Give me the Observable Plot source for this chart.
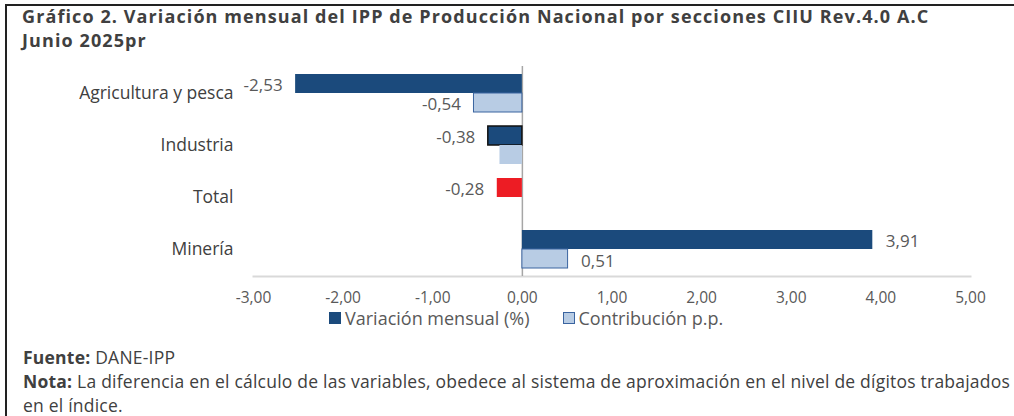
<!DOCTYPE html>
<html>
<head>
<meta charset="utf-8">
<script src="https://cdn.jsdelivr.net/npm/d3@7"></script>
<script src="https://cdn.jsdelivr.net/npm/@observablehq/plot@0.6"></script>
<style>
  html, body { margin: 0; padding: 0; background: #fff; }
  #page { position: relative; width: 1014px; height: 416px; overflow: hidden; font-family: "Open Sans", sans-serif; }
  #frame { position: absolute; left: 5px; top: 4px; width: 1020px; height: 420px; border-top: 2px solid #222; border-left: 2px solid #222; }
  #title { position: absolute; left: 22px; top: 4px; font-weight: 700; font-size: 18px; letter-spacing: 1.1px; line-height: 24px; color: #404040; white-space: nowrap; }
  #chart { position: absolute; left: 0; top: 0; }
  #legend { position: absolute; left: 329px; top: 306px; display: flex; align-items: center; font-size: 18px; line-height: 24px; color: #595959; white-space: nowrap; }
  #legend .item { display: flex; align-items: center; margin-right: 33px; }
  #legend .sw { width: 12px; height: 12px; margin-right: 4px; box-sizing: border-box; }
  #footer { position: absolute; left: 23px; top: 345px; font-size: 17.5px; letter-spacing: 0.22px; line-height: 24px; color: #404040; white-space: nowrap; }
  #footer b { font-weight: 700; }
</style>
</head>
<body>
<div id="page">
  <div id="frame"></div>
  <div id="title">Gráfico 2. Variación mensual del IPP de Producción Nacional por secciones CIIU Rev.4.0 A.C<br>Junio 2025pr</div>
  <div id="chart"></div>
  <div id="legend"></div>
  <div id="footer"><b>Fuente:</b> DANE-IPP<br><b>Nota:</b> La diferencia en el cálculo de las variables, obedece al sistema de aproximación en el nivel de dígitos trabajados<br>en el índice.</div>
</div>
<script>
const categories = ["Agricultura y pesca", "Industria", "Total", "Minería"];
const variacion = [-2.53, -0.38, -0.28, 3.91];
const contribucion = [-0.54, -0.25, null, 0.51];
const contribucionLabelShown = [true, false, false, true];
const xTicks = [-3, -2, -1, 0, 1, 2, 3, 4, 5];
const seriesNames = ["Variación mensual (%)", "Contribución p.p."];

const fmt = v => v.toFixed(2).replace(".", ",");

const varRows = categories.map((c, i) => ({category: c, value: variacion[i]}));
const conRows = categories.map((c, i) => ({category: c, value: contribucion[i], showLabel: contribucionLabelShown[i]}))
  .filter(d => d.value != null);

const DARK = "#1b4a7c";
const LIGHT = "#b8cce4";
const LIGHT_STROKE = "#3a64a0";
const RED = "#ed1c24";
const LABEL = "#595959";

const chart = Plot.plot({
  width: 1014,
  height: 310,
  marginTop: 66,
  marginBottom: 34,
  marginLeft: 253,
  marginRight: 44,
  style: {fontFamily: "Open Sans, sans-serif", fontSize: "15px", color: LABEL, background: "transparent"},
  x: {domain: [-3, 5]},
  y: {domain: categories, padding: 0},
  marks: [
    Plot.frame({anchor: "bottom", stroke: "#d9d9d9", strokeWidth: 2}),
    Plot.ruleX([0], {stroke: "#a6a6a6", strokeWidth: 1.5}),
    Plot.barX(varRows.filter(d => d.category !== "Total" && d.category !== "Industria"),
      {y: "category", x: "value", fill: DARK, insetTop: 7, insetBottom: 26}),
    Plot.barX(varRows.filter(d => d.category === "Industria"),
      {y: "category", x: "value", fill: DARK, stroke: "#111", strokeWidth: 1.5, insetTop: 7, insetBottom: 26}),
    Plot.barX(varRows.filter(d => d.category === "Total"),
      {y: "category", x: "value", fill: RED, insetTop: 7, insetBottom: 26}),
    Plot.barX(conRows.filter(d => d.showLabel),
      {y: "category", x: "value", fill: LIGHT, stroke: LIGHT_STROKE, strokeWidth: 1, insetTop: 26, insetBottom: 7}),
    Plot.barX(conRows.filter(d => !d.showLabel),
      {y: "category", x: "value", fill: LIGHT, insetTop: 26, insetBottom: 7}),
    Plot.text(varRows.filter(d => d.value >= 0), {y: "category", x: "value", text: d => fmt(d.value), dy: -8, dx: 13, textAnchor: "start", fill: LABEL, fontSize: 17}),
    Plot.text(varRows.filter(d => d.value < 0), {y: "category", x: "value", text: d => fmt(d.value), dy: -8, dx: -13, textAnchor: "end", fill: LABEL, fontSize: 17}),
    Plot.text(conRows.filter(d => d.showLabel && d.value >= 0), {y: "category", x: "value", text: d => fmt(d.value), dy: 12, dx: 13, textAnchor: "start", fill: LABEL, fontSize: 17}),
    Plot.text(conRows.filter(d => d.showLabel && d.value < 0), {y: "category", x: "value", text: d => fmt(d.value), dy: 11, dx: -13, textAnchor: "end", fill: LABEL, fontSize: 17}),
    Plot.axisX({ticks: xTicks, tickFormat: fmt, tickSize: 0, tickPadding: 15, fontSize: 15.5, fill: LABEL, label: null}),
    Plot.axisY({tickSize: 0, tickPadding: 20, fontSize: 17.5, fill: "#404040", label: null})
  ]
});
document.getElementById("chart").appendChild(chart);

const legend = document.getElementById("legend");
const swatchStyles = [
  {background: DARK, border: "none"},
  {background: LIGHT, border: "1.5px solid " + LIGHT_STROKE}
];
seriesNames.forEach((name, i) => {
  const item = document.createElement("div");
  item.className = "item";
  const sw = document.createElement("span");
  sw.className = "sw";
  sw.style.background = swatchStyles[i].background;
  sw.style.border = swatchStyles[i].border;
  const label = document.createElement("span");
  label.textContent = name;
  item.appendChild(sw);
  item.appendChild(label);
  legend.appendChild(item);
});
</script>
</body>
</html>
